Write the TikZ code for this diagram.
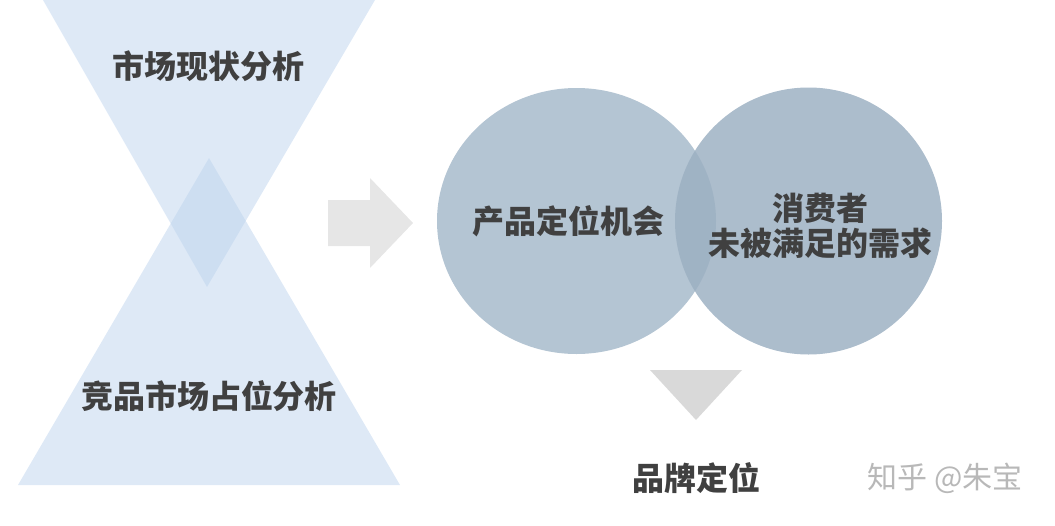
\documentclass[tikz,border=0pt]{standalone}
\usepackage{fontspec}
\newfontfamily\cjk{Noto Sans CJK SC}
\usetikzlibrary{positioning}
\definecolor{funnelblue}{RGB}{189,211,237}
\definecolor{circleleft}{RGB}{180,197,211}
\definecolor{circleright}{RGB}{156,176,194}
\definecolor{arrowgray}{RGB}{230,230,230}
\definecolor{downgray}{RGB}{217,217,217}
\definecolor{textgray}{RGB}{64,64,64}

\begin{document}
\begin{tikzpicture}[x=1pt, y=-1pt,
    heading/.style={font=\cjk\bfseries\fontsize{32}{35}\selectfont, text=textgray, inner sep=0pt, align=center},
    funnel/.style={fill=funnelblue, fill opacity=0.5},
    watermark/.style={font=\cjk\fontsize{30}{34}\selectfont, text=black!28, inner sep=0pt}]
    \useasboundingbox (0,0) rectangle (1055,525);
    % two funnels
    \coordinate (T1) at (43,0);
    \coordinate (T2) at (375,0);
    \coordinate (T3) at (207,287);
    \coordinate (B1) at (209,158);
    \coordinate (B2) at (400,485);
    \coordinate (B3) at (18,485);
    \fill[funnel] (T1) -- (T2) -- (T3) -- cycle;
    \fill[funnel] (B1) -- (B2) -- (B3) -- cycle;
    \node[heading] (market) at (208,66) {市场现状分析};
    \node[heading] (rivals) at (209,396) {竞品市场占位分析};

    % arrow to the right
    \fill[arrowgray] (328,200) -- (370,200) -- (370,178) -- (413,223)
        -- (370,268) -- (370,246) -- (328,246) -- cycle;

    % two circles
    \fill[circleleft] (576.5,221) ellipse [x radius=139.5, y radius=133];
    \fill[circleright, fill opacity=0.84] (808.5,221) circle [radius=133.5];
    \node[heading] (chance) at (568,221) {产品定位机会};
    \node[heading] (needs) at (820,226) {消费者\\未被满足的需求};

    % down to the brand
    \coordinate (D1) at (650,370);
    \coordinate (D2) at (742,370);
    \coordinate (D3) at (696,420);
    \fill[downgray] (D1) -- (D2) -- (D3) -- cycle;
    \node[heading, below=42pt of D3] (brand) {品牌定位};
    \node[watermark] (mark) at (945,478) {知乎 @朱宝};
\end{tikzpicture}
\end{document}
